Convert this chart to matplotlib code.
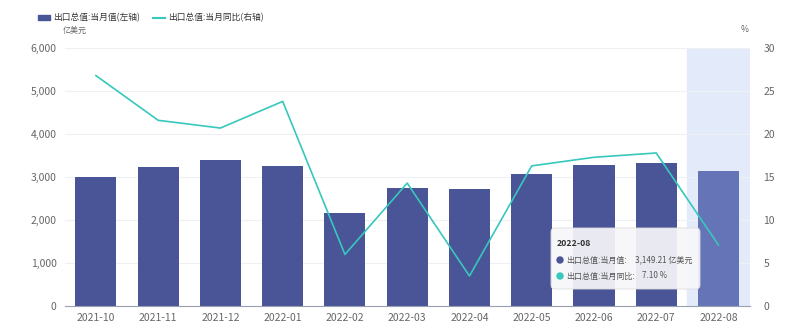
import matplotlib
matplotlib.use("Agg")
import matplotlib.pyplot as plt
from matplotlib.patches import FancyBboxPatch, Rectangle
from matplotlib.lines import Line2D

plt.rcParams['font.family'] = ['Noto Sans CJK SC', 'DejaVu Sans']

categories = ["2021-10", "2021-11", "2021-12", "2022-01", "2022-02", "2022-03",
              "2022-04", "2022-05", "2022-06", "2022-07", "2022-08"]
export_value = [2996, 3240, 3400, 3265, 2170, 2750, 2730, 3060, 3290, 3330, 3149.21]
export_yoy = [26.8, 21.6, 20.7, 23.8, 6.0, 14.3, 3.5, 16.3, 17.3, 17.8, 7.10]
left_ticks = [0, 1000, 2000, 3000, 4000, 5000, 6000]
right_ticks = [0, 5, 10, 15, 20, 25, 30]

bar_color = "#4a5598"
hl_bar_color = "#6574b6"
line_color = "#36c8bc"
tick_color = "#666666"

fig = plt.figure(figsize=(8, 3.27), dpi=100)
ax = fig.add_axes([0.081, 0.064, 0.856, 0.789])
ax2 = ax.twinx()
ax.set_zorder(1)
ax2.set_zorder(2)
ax.patch.set_visible(False)

x = list(range(len(categories)))
hl = len(categories) - 1
ax.axvspan(hl - 0.5, hl + 0.5, color="#e3ebfb", zorder=0)
colors = [bar_color] * len(categories)
colors[hl] = hl_bar_color
ax.bar(x, export_value, width=0.66, color=colors, zorder=2)

ax.set_xlim(-0.5, len(categories) - 0.5)
ax.set_ylim(0, 6000)
ax.set_yticks(left_ticks)
ax.set_yticklabels([f"{v:,}" for v in left_ticks])
ax.set_xticks(x)
ax.set_xticklabels(categories)
ax.grid(axis="y", color="#eef0f6", linewidth=0.8, zorder=0)
ax.set_axisbelow(True)

for a in (ax, ax2):
    for s in a.spines.values():
        s.set_visible(False)
ax.spines["bottom"].set_visible(True)
ax.spines["bottom"].set_color("#9aa0b4")
ax.tick_params(axis="both", length=0, labelsize=7.5, colors=tick_color, pad=6)
ax.tick_params(axis="x", pad=5)

ax2.plot(x, export_yoy, color=line_color, linewidth=1.2, zorder=3)
ax2.set_ylim(0, 30)
ax2.set_yticks(right_ticks)
ax2.set_yticklabels([str(v) for v in right_ticks])
ax2.tick_params(axis="y", length=0, labelsize=7.5, colors=tick_color, pad=10)

fig.text(63 / 800, 297 / 327, "亿美元", fontsize=5.8, color=tick_color, ha="left", va="center")
fig.text(749 / 800, 297 / 327, "%", fontsize=6.2, color=tick_color, ha="right", va="center")

# legend
handles = [Rectangle((0, 0), 1, 1, color=bar_color),
           Line2D([0], [0], color=line_color, linewidth=1.5)]
fig.legend(handles, ["出口总值:当月值(左轴)", "出口总值:当月同比(右轴)"],
           loc="center left", bbox_to_anchor=(38 / 800, 309 / 327), ncol=2, frameon=False,
           fontsize=6.3, handlelength=1.35, handleheight=0.5, columnspacing=1.5,
           handletextpad=0.35, labelcolor="#333333", borderpad=0, borderaxespad=0)

# tooltip
tip = FancyBboxPatch((551, 38), 149, 61, boxstyle="round,pad=0,rounding_size=4",
                     transform=None, facecolor=(0.97, 0.97, 0.98, 0.92), edgecolor="#dddddd",
                     linewidth=0.6, zorder=10)
fig.patches.append(tip)
fig.text(557 / 800, 84 / 327, categories[hl], fontsize=6.3, fontweight="bold",
         color="#333333", va="center", ha="left", zorder=11)
fig.patches.append(plt.Circle((560, 67), 3, transform=None, color=bar_color, zorder=11))
fig.text(566 / 800, 67 / 327, "出口总值:当月值:", fontsize=5.8,
         color="#555555", va="center", ha="left", zorder=11)
fig.text(635 / 800, 67 / 327, f"{export_value[hl]:,.2f} 亿美元", fontsize=5.8,
         color="#555555", va="center", ha="left", zorder=11)
fig.patches.append(plt.Circle((560, 51), 3, transform=None, color=line_color, zorder=11))
fig.text(566 / 800, 51 / 327, "出口总值:当月同比:", fontsize=5.8,
         color="#555555", va="center", ha="left", zorder=11)
fig.text(642 / 800, 51 / 327, f"{export_yoy[hl]:.2f} %", fontsize=5.8,
         color="#555555", va="center", ha="left", zorder=11)

fig.savefig("out.png", dpi=100)
